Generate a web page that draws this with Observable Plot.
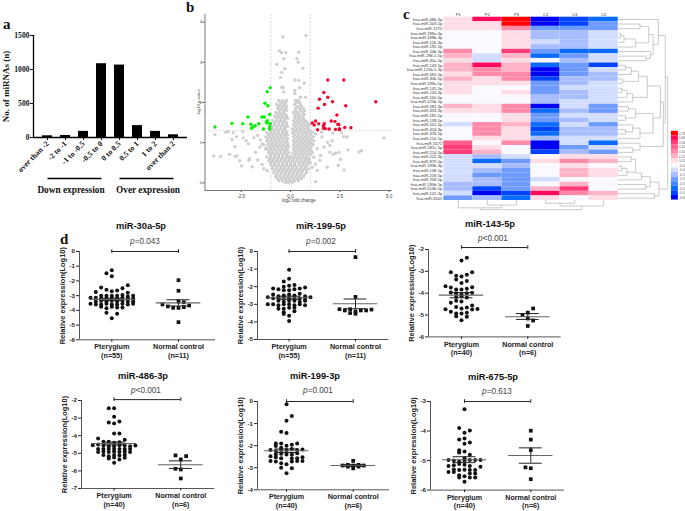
<!DOCTYPE html>
<html><head><meta charset="utf-8">
<script src="https://cdn.jsdelivr.net/npm/d3@7"></script>
<script src="https://cdn.jsdelivr.net/npm/@observablehq/plot@0.6"></script>
<style>
html,body{margin:0;padding:0;background:#fff;width:685px;height:511px;overflow:hidden}
#root{position:relative;width:685px;height:511px;overflow:hidden}
.abs{position:absolute;white-space:nowrap;line-height:1}
.ctr{transform:translateX(-50%)}
.panel{position:absolute}
.panel svg{display:block;overflow:visible;background:transparent}
.letter{font:bold 15px "Liberation Serif",serif;color:#111}
.ttl{font:bold 9.3px "Liberation Sans",sans-serif;color:#111}
.pv{font:8.2px "Liberation Sans",sans-serif;color:#444}
.grp{font:bold 9.3px "Liberation Serif",serif;color:#111}
</style></head>
<body><div id="root"></div>
<script>
// ---------- panel a ----------
const foldBins = ["over than -2","-2 to -1","-1 to -0.5","-0.5 to 0","0 to 0.5","0.5 to 1","1 to 2","over than 2"];
const mirnaCounts = [25,30,90,1085,1065,175,90,40];
const expressionGroups = [
  {name:"Down expression", from:"over than -2", to:"-0.5 to 0"},
  {name:"Over expression", from:"0 to 0.5", to:"over than 2"}
];

// ---------- panel b ----------
const volcanoGreenX = [-3.83,-2.97,-2.42,-2.16,-2.01,-1.91,-1.98,-1.79,-1.61,-1.45,-1.33,-1.3,-1.15,-1.18,-1.03,-1.05,-1.18,-1.22,-1.03,-1.18,-1.05,-1.05,-1.37];
const volcanoGreenY = [1.39,1.48,1.47,1.64,1.46,1.39,1.36,1.42,1.47,1.64,1.64,1.98,1.92,2.27,2.37,1.7,1.55,1.51,1.48,1.49,1.4,1.34,1.34];
const volcanoRedX = [1.89,2.7,1.69,1.89,1.47,2.13,1.72,2.8,1.4,4.32,2.35,2.06,2.25,1.27,1.1,1.2,1.43,1.71,1.67,2.4,2.45,2.75,3.06,1.37,1.67,1.77,1.96,2.28,2.48,2.48];
const volcanoRedY = [2.56,2.56,2.25,2.13,2.08,2.02,1.95,1.92,1.86,2.02,1.69,1.54,1.53,1.54,1.49,1.44,1.47,1.47,1.42,1.46,1.45,1.38,1.37,1.32,1.36,1.35,1.34,1.33,1.35,1.32];
const volcanoGreyOutliers = [[-0.39,3.63],[0.79,3.67],[-0.56,3.29],[-0.46,3.24],[-0.24,3.24],[0.42,3.25],[-0.34,3.09],[0.32,3.09],[0.39,3.0],[-0.69,2.95],[0.63,2.85],[-0.29,2.84],[-0.44,2.75],[-0.51,2.62],[0.22,2.56],[0.42,2.55],[0.69,2.48],[-0.44,2.38],[-0.37,2.37],[0.22,2.3],[0.22,2.22],[0.46,2.37],[-0.34,2.26],[0.51,2.13],[0.76,2.13],
[-3.83,1.2],[-3.28,1.26],[-3.16,1.28],[-2.91,1.25],[-2.42,1.28],[-2.74,1.15],[-2.97,1.08],[-2.82,0.9],[-3.89,0.67],[-3.55,0.66],[-3.09,0.71],[-2.82,0.66],[-2.72,0.67],[-2.57,0.55],[-2.48,0.42],[-2.08,0.6],[-2.11,0.56],[-1.94,0.4],[-2.4,1.12],[-2.13,0.97],[-2.25,1.05],[-1.86,1.12],[-1.66,1.18],[-1.52,1.07],[-1.77,0.76],[-1.66,0.57],[-1.44,0.46],[-1.35,0.35],[-1.18,0.31],[-1.55,0.89],[-1.44,0.97],[-1.27,0.85],
[1.27,0.03],[1.86,0.39],[2.42,0.44],[2.72,0.32],[2.53,0.58],[2.91,0.82],[2.6,1.24],[2.7,1.15],[2.87,1.14],[4.73,1.12],[3.6,0.8],[3.48,0.77],[2.45,0.76],[2.16,0.71],[2.28,0.74],[1.99,0.76],[1.88,1.01],[2.11,1.05],[1.99,0.93],[1.52,0.68],[1.27,0.47],[1.49,0.56],[1.18,1.05],[1.27,1.22],[1.6,1.14],[1.69,0.89],[1.35,0.85],[1.18,0.64],[1.1,0.39],[1.35,0.31],[1.57,1.26],[2.15,1.24]];
const volcanoGreyCloud = [
[2.05,[-0.6,-0.4,-0.2,0.25,0.4]],
[2.0,[-0.5,-0.35,-0.25,0.3,0.45]],
[1.95,[-0.7,-0.5,-0.3,0.2,0.5]],
[1.9,[-0.6,-0.4,-0.2,0.35,0.55]],
[1.85,[-0.65,-0.45,-0.25,0.25,0.45,0.65]],
[1.8,[-0.55,-0.35,-0.2,0.25,0.5,0.7]],
[1.75,[-0.75,-0.55,-0.35,0.15,0.35,0.6]],
[1.7,[-0.65,-0.45,-0.25,0.25,0.45,0.7]],
[1.65,[-0.8,-0.6,-0.4,-0.2,0.2,0.4,0.6]],
[1.6,[-0.7,-0.5,-0.3,-0.15,0.25,0.45,0.65]],
[1.55,[-0.9,-0.7,-0.5,-0.3,0.15,0.35,0.55,0.75]],
[1.5,[-0.8,-0.6,-0.4,-0.2,0.25,0.45,0.65,0.85]],
[1.45,[-1.0,-0.8,-0.6,-0.4,-0.2,0.15,0.35,0.55,0.75,0.95]],
[1.4,[-0.9,-0.7,-0.5,-0.3,-0.15,0.25,0.45,0.65,0.85]],
[1.35,[-1.1,-0.9,-0.7,-0.5,-0.3,0.1,0.3,0.5,0.7,0.9]],
[1.3,[-1.0,-0.8,-0.6,-0.4,-0.25,0.2,0.4,0.6,0.8,1.0]],
[1.25,[-1.2,-1.0,-0.8,-0.6,-0.4,-0.2,0.1,0.3,0.5,0.7,0.9,1.1]],
[1.2,[-1.1,-0.9,-0.7,-0.5,-0.3,-0.15,0.2,0.4,0.6,0.8,1.0]],
[1.15,[-1.25,-1.05,-0.85,-0.65,-0.45,-0.25,0.15,0.35,0.55,0.75,0.95,1.15]],
[1.1,[-1.15,-0.95,-0.75,-0.55,-0.35,-0.15,0.25,0.45,0.65,0.85,1.05]],
[1.05,[-1.2,-1.0,-0.8,-0.6,-0.4,-0.2,0.15,0.35,0.55,0.75,0.95]],
[1.0,[-1.1,-0.9,-0.7,-0.5,-0.3,-0.15,0.25,0.45,0.65,0.85,1.05]],
[0.95,[-1.35,-1.15,-0.95,-0.75,-0.55,-0.35,-0.15,0.15,0.35,0.55,0.75,0.95,1.15]],
[0.9,[-1.05,-0.85,-0.65,-0.45,-0.25,-0.1,0.25,0.45,0.65,0.85,1.05]],
[0.85,[-1.2,-1,-0.8,-0.6,-0.4,-0.2,0.15,0.35,0.55,0.75,0.95]],
[0.8,[-1.1,-0.9,-0.7,-0.5,-0.3,-0.15,0.25,0.45,0.65,0.85,1.05]],
[0.75,[-1.1,-0.9,-0.7,-0.5,-0.3,-0.1,0.1,0.3,0.5,0.7,0.9,1.1]],
[0.7,[-1.0,-0.8,-0.6,-0.4,-0.2,0.2,0.4,0.6,0.8,1.0]],
[0.65,[-1.2,-1,-0.8,-0.6,-0.4,-0.2,-0.05,0.05,0.25,0.45,0.65,0.85]],
[0.6,[-1.05,-0.85,-0.65,-0.45,-0.25,-0.05,0.15,0.35,0.55,0.75,0.95]],
[0.55,[-1.1,-0.9,-0.7,-0.5,-0.3,-0.1,0.1,0.3,0.5,0.7,0.9]],
[0.5,[-1.0,-0.8,-0.6,-0.4,-0.2,0,0.2,0.4,0.6,0.8,1.0]],
[0.45,[-1,-0.8,-0.6,-0.4,-0.2,0,0.2,0.45,0.65,0.85]],
[0.4,[-0.9,-0.7,-0.5,-0.3,-0.1,0.1,0.3,0.55,0.75]],
[0.35,[-0.9,-0.7,-0.5,-0.3,-0.1,0.1,0.3,0.5,0.7,0.9]],
[0.3,[-0.8,-0.6,-0.4,-0.2,0,0.2,0.4,0.6,0.8]],
[0.25,[-0.85,-0.65,-0.45,-0.25,-0.05,0.15,0.35,0.55,0.8]],
[0.2,[-0.7,-0.5,-0.3,-0.1,0.1,0.3,0.5,0.7]],
[0.15,[-0.75,-0.55,-0.35,-0.15,0.05,0.25,0.45,0.65]],
[0.1,[-0.65,-0.45,-0.25,-0.05,0.15,0.35,0.55]],
[0.05,[-0.6,-0.4,-0.2,0,0.2,0.4]],
[0.01,[-0.25,-0.1,0.1]]];

// ---------- panel c ----------
const heatSamples = ["P1","P2","P3","C1","C3","C2"];
const heatMirnas = ["hsa-miR-486-3p","hsa-miR-503-5p","hsa-miR-1270","hsa-miR-199a-3p","hsa-miR-199b-3p","hsa-miR-126-3p","hsa-miR-195-5p","hsa-miR-10b-3p","hsa-miR-29b-1-5p","hsa-miR-30a-5p","hsa-miR-143-5p","hsa-miR-125b-1-3p","hsa-miR-582-5p","hsa-miR-30b-5p","hsa-miR-199a-5p","hsa-miR-145-5p","hsa-miR-143-3p","hsa-miR-100-5p","hsa-miR-125b-5p","hsa-miR-582-3p","hsa-miR-433-3p","hsa-miR-185-5p","hsa-miR-139-5p","hsa-miR-501-5p","hsa-miR-424-3p","hsa-miR-376-5p","hsa-miR-150-5p","hsa-miR-3172","hsa-miR-181c-5p","hsa-miR-214-5p","hsa-miR-222-3p","hsa-miR-873-5p","hsa-miR-193b-3p","hsa-miR-148-5p","hsa-miR-218-5p","hsa-miR-708-5p","hsa-miR-190b-5p","hsa-miR-514b-5p","hsa-miR-141-3p","hsa-miR-6501"];
const heatLevels = [
[1,4,6,-6,-5,-4],[1,1,6,-6,-5,-3],[1,1,2,-3,-3,-3],[0,0,1,-2,-2,-1],[0,0,1,-2,-2,-1],[0,0,1,-1,-2,-1],[0,0,1,-2,-2,-1],
[2,0,3,-3,-4,-4],[1.5,-1,1.5,-4,-3,-1],[1,-1,1,0,-2,-1],[1.5,4,1.5,-4,-3,-5],[1.5,2,1.5,-6,-3,-1],[1,2,2,-6,-3,-2],[1.5,1,2,-5,-2,-2],
[1,1,1,-3,-2,-1],[1,0,0,-3,-1,-1],[1,0,1,-3,-2,-1],[0,0,0,-2,-2,-1],[0,0,0,-2,-1,-1],[1.5,1,2,-6,-1,-3],[1,1,2,-4,-2,-3],[0,0,1,-3,-1,-1],[0,0,1,-3,-2,-1],
[-1,2,1.5,-4,-1,-3],[0,2,1,-5,-2,-2],[0,2,1,-4,-2,-2],[0,1,1,-2,-1,-1],[2.5,0,2,-6,-1,-4],[3,1,0,-6,-3,-1],[3,1.5,0,-5,-2,-3],
[-1,-2,-1,0,1,1],[-1,-4,-3,1,2,1.5],[-1,-1,-2,0,1,0],[-1,-2,-3,0,1.5,1],[-1,-3,-3,0,1.5,1],[-1,-2,-3,-1,0,0],[-2,-2,-3,0,1.5,0],[-2,-5,-3,1.5,3,0],[-1,-6,-5,4,2,1.5],[-3,-2,-4,1,0,1]];
const heatPalette = new Map([[6,"#ff0000"],[4,"#ff0a5a"],[3,"#ff3d78"],[2.5,"#ff5f8c"],[2,"#ff8aa8"],[1.5,"#ffb3c6"],[1,"#ffdde6"],[0,"#f9f9ff"],[-1,"#d2ddff"],[-2,"#a8bdff"],[-3,"#6e9bff"],[-4,"#0a6cff"],[-5,"#0044ff"],[-6,"#0000f5"]]);
const legendTicks = ["0.76","0.66","0.56","0.41","0.31","0.21","0.11","-0.02","-0.09","-0.19","-0.29","-0.37","-0.47","-0.57","-0.66"];
const legendLevels = [6,4,3,2.5,2,1.5,1,0,-1,-2,-3,-3.5,-4,-5,-6];
// dendrograms: [rowA, depthA, rowB, depthB, depthOfJoin]
const rowTree = [
[1.5,6,2.5,6,6.75],[3.5,6,4.5,6,6.08],[4,6.08,5.5,6,6.2],[4.75,6.2,6.5,6,6.6],[2,6.75,5.6,6.6,7.05],
[8.5,6,9.5,6,6.96],[7.5,6,9,6.96,7.11],[3.8,7.05,8.2,7.11,7.2],[0.5,6,6,7.2,7.38],
[10.5,6,11.5,6,6.25],[11,6.25,12.5,6,6.45],[13.5,6,14.5,6,6.15],[15.5,6,16.5,6,6.12],[15.9,6.12,17.5,6,6.3],[16.7,6.3,18.5,6,6.5],[11.8,6.45,14,6.15,6.7],[12.9,6.7,17.5,6.5,7.0],
[19.5,6,20.5,6,6.35],[21.5,6,22.5,6,6.25],[20,6.35,22,6.25,6.6],[24.5,6,25.5,6,6.25],[23.5,6,25,6.25,6.5],[26.5,6,24.2,6.5,6.75],[21,6.6,25.3,6.75,7.2],
[28.5,6,29.5,6,6.5],[27.5,6,29,6.5,6.75],[15,7,22,7.2,7.45],[18.5,7.45,28.2,6.75,7.55],
[30.5,6,31.5,6,6.45],[32.5,6,33.5,6,6.12],[34.5,6,33,6.12,6.3],[31,6.45,33.8,6.3,6.6],[35.5,6,34,6.6,6.8],[36.5,6,37.5,6,6.95],[34.8,6.8,37,6.95,7.1],[38.5,6,39.5,6,7.25],[36,7.1,39,7.25,7.4],
[4,7.38,23,7.55,7.62],[13,7.62,37.5,7.4,7.7]];
// [colA, heightA, colB, heightB, heightOfJoin]
const colTree = [[1.5,40,2.5,40,41],[0.5,40,2,41,41.6],[3.5,40,4.5,40,40.6],[4,40.6,5.5,40,41.2],[1.25,41.6,4.75,41.2,42]];

// ---------- panel d ----------
const a30Pt = [[0,-1.27],[-1,-1.47],[0,-1.68],[3,-2.3],[-2,-2.45],[2,-2.5],[-1,-2.6],[1,-2.65],[0,-2.7],[-3,-2.75],[3,-2.8],
[-2,-3.0],[-1,-3.0],[0,-3.0],[1,-3.0],[2,-2.95],[3,-3.05],[4,-3.0],[-4,-3.15],[-3,-3.15],[-2,-3.2],[-1,-3.2],[0,-3.15],[1,-3.2],[2,-3.15],[3,-3.2],[4,-3.2],
[-3,-3.4],[-2,-3.35],[-1,-3.4],[0,-3.35],[1,-3.4],[2,-3.35],[3,-3.4],[4,-3.4],[-3,-3.6],[-2,-3.6],[-1,-3.55],[0,-3.6],[1,-3.6],[2,-3.55],[3,-3.6],[-4,-3.55],[4,-3.55],
[-1,-3.85],[0,-3.75],[1,-3.8],[2,-3.8],[-2,-3.75],[-1,-4.17],[1,-4.23],[0,-4.53]];
const a30Nc = [[0,-1.95],[0,-2.67],[0,-3.4],[1,-3.45],[-3,-3.6],[-2,-3.73],[-1,-3.83],[0,-3.83],[1,-3.78],[2,-3.67],[0,-4.8]];
const b199Pt = [[0,-1.04],[0,-1.55],[-1,-1.7],[0,-1.95],[1,-1.9],[-1,-2.0],[-3,-2.1],[-2,-2.15],[-1,-2.2],[0,-2.2],[1,-2.15],[2,-2.1],[3,-2.05],
[-3,-2.45],[-2,-2.55],[-1,-2.5],[0,-2.45],[1,-2.5],[2,-2.4],[3,-2.55],[-4,-2.6],[-3,-2.65],[-2,-2.65],[-1,-2.6],[0,-2.65],[1,-2.7],[2,-2.65],[3,-2.7],[4,-2.6],
[-2,-2.8],[-1,-2.85],[0,-2.8],[1,-2.8],[2,-2.85],[3,-2.8],[-3,-3.0],[-4,-3.0],[-2,-3.05],[-1,-3.0],[0,-3.0],[1,-3.05],[2,-3.0],[3,-3.05],
[-1,-3.25],[0,-3.2],[1,-3.2],[-2,-3.25],[-1,-3.55],[0,-3.65],[1,-3.4],[-1,-3.45],[0,-3.95]];
const b199Nc = [[0,-0.32],[0,-2.58],[-3,-3.28],[-2,-3.35],[-1,-3.28],[0,-3.4],[1,-3.35],[2,-3.35],[3,-3.3],[0,-3.54],[-1,-3.5]];
const c143Pt = [[1,-2.38],[0,-2.5],[-2,-3.04],[2,-3.04],[1,-3.16],[0,-3.24],[-1,-3.2],[-1,-3.37],[0,-3.53],[1,-3.44],[-3,-3.68],[-2,-3.74],[-1,-3.83],[0,-3.83],[1,-3.8],[2,-3.73],[-2,-3.97],[-1,-4.0],[0,-4.05],[1,-4.0],[2,-3.98],[-1,-4.17],[0,-4.14],[1,-4.2],[-2,-4.44],[-1,-4.35],[0,-4.38],[-1,-4.63],[0,-4.7],[1,-4.66],[2,-4.56],[-3,-4.73],[2,-4.75],[3,-4.72],[-2,-4.85],[-1,-4.93],[0,-4.93],[1,-4.9],[-1,-5.05],[1,-5.08],[0,-5.24]];
const c143Nc = [[1,-4.7],[0,-4.89],[-1,-5.0],[0,-5.16],[1,-5.25],[0,-5.5]];
const d486Pt = [[-1,-2.44],[0,-2.44],[0,-2.93],[-1,-3.25],[0,-3.3],[1,-3.2],[0,-3.88],[1,-3.88],[-3,-4.16],[2,-4.23],[-2,-4.35],[-1,-4.35],[0,-4.4],[1,-4.37],
[-4,-4.54],[-3,-4.5],[-2,-4.54],[-1,-4.6],[0,-4.6],[1,-4.54],[2,-4.56],[3,-4.6],[4,-4.56],[-3,-4.75],[-2,-4.75],[-1,-4.75],[0,-4.75],[1,-4.75],[2,-4.75],[3,-4.75],
[-3,-4.92],[-2,-4.9],[-1,-4.92],[0,-4.9],[1,-4.92],[2,-4.9],[3,-4.92],[-2,-5.1],[-1,-5.17],[0,-5.1],[1,-5.12],[2,-5.08],[-1,-5.3],[0,-5.24],[1,-5.35],[0,-5.54],[2,-5.26]];
const d486Nc = [[-1,-5.12],[1,-5.16],[0,-5.35],[-1,-5.88],[0,-5.92],[0,-6.43]];
const e199Pt = [[0,-0.12],[1,-0.66],[0,-0.87],[-1,-1.37],[0,-1.43],[-2,-1.9],[-1,-1.9],[2,-1.9],[1,-1.96],[0,-2.0],[-2,-2.02],[-1,-2.1],[-3,-2.2],[-2,-2.24],[-1,-2.2],[0,-2.2],[1,-2.15],[2,-2.2],[3,-2.18],
[-2,-2.4],[-1,-2.37],[0,-2.4],[1,-2.4],[2,-2.35],[-3,-2.48],[-2,-2.52],[-1,-2.57],[1,-2.57],[2,-2.57],[3,-2.52],[-3,-2.69],[-2,-2.72],[-1,-2.8],[0,-2.84],[1,-2.72],[2,-2.69],[3,-2.69],[-1,-3.0],[1,-3.02],[0,-3.25]];
const e199Nc = [[0,-2.69],[-1,-2.87],[1,-2.87],[0,-2.9],[-2,-2.9],[2,-2.9],[-1,-2.95],[1,-2.95],[0,-3.03]];
const f675Pt = [[0,-3.26],[-1,-3.9],[0,-4.06],[1,-3.98],[-1,-4.29],[0,-4.25],[0,-4.43],[1,-4.39],[-1,-4.65],[-1,-4.73],[0,-4.69],[1,-4.8],[-3,-4.98],[-2,-5.0],[-1,-5.03],[0,-4.92],[0,-5.0],[1,-4.98],[2,-4.98],[3,-4.98],
[-3,-5.18],[-2,-5.16],[-1,-5.12],[0,-5.14],[1,-5.18],[3,-5.21],[-2,-5.3],[-3,-5.39],[-2,-5.39],[-1,-5.32],[0,-5.31],[1,-5.32],[2,-5.32],[2,-5.44],[1,-5.44],[-1,-5.5],[0,-5.53],[-1,-5.57],[1,-5.57],[2,-5.57],[0,-5.72]];
const f675Nc = [[0,-3.99],[0,-4.29],[0,-4.65],[-1,-5.23],[0,-5.26],[0,-5.63]];

const dotPanels = [
 {title:"miR-30a-5p", pText:"=0.043", titleX:141,titleY:221,pX:145,pY:237, n:[55,11], pt:a30Pt, nc:a30Nc, ptStat:[-3.25,-3.33,-3.17], ncStat:[-3.49,-3.7,-3.28], bracket:0, axisX:79,axisR:215,g1:111.3,g2:178,yT:251,yB:339.3,dom:[-6,0],ticks:[0,-1,-2,-3,-4,-5,-6]},
 {title:"miR-199-5p", pText:"=0.002", titleX:321,titleY:221,pX:321,pY:237, n:[55,11], pt:b199Pt, nc:b199Nc, ptStat:[-2.63,-2.72,-2.54], ncStat:[-2.97,-3.25,-2.7], bracket:0, axisX:256.7,axisR:388,g1:288.3,g2:354.7,yT:251,yB:339,dom:[-5,0],ticks:[0,-1,-2,-3,-4,-5]},
 {title:"miR-143-5p", pText:"<0.001", titleX:490,titleY:219,pX:493,pY:234, n:[40,6], pt:c143Pt, nc:c143Nc, ptStat:[-4.09,-4.21,-3.97], ncStat:[-5.08,-5.2,-4.93], bracket:-1.91, axisX:428,axisR:560.7,g1:461,g2:527.3,yT:249.3,yB:336.7,dom:[-6,-2],ticks:[-2,-3,-4,-5,-6]},
 {title:"miR-486-3p", pText:"<0.001", titleX:143,titleY:371,pX:146,pY:386, n:[40,6], pt:d486Pt, nc:d486Nc, ptStat:[-4.44,-4.52,-4.36], ncStat:[-5.65,-5.86,-5.43], bracket:-1.95, axisX:80.7,axisR:214,g1:113.3,g2:180,yT:400.3,yB:488.3,dom:[-7,-2],ticks:[-2,-3,-4,-5,-6,-7]},
 {title:"miR-199-3p", pText:"=0.001", titleX:315,titleY:371,pX:318,pY:386, n:[40,6], pt:e199Pt, nc:e199Nc, ptStat:[-2.23,-2.31,-2.15], ncStat:[-2.9,-2.94,-2.86], bracket:0, axisX:257,axisR:389,g1:286,g2:352.7,yT:400.7,yB:489,dom:[-4,0],ticks:[0,-1,-2,-3,-4]},
 {title:"miR-675-5p", pText:"=0.613", titleX:493,titleY:372,pX:497,pY:387, n:[40,6], pt:f675Pt, nc:f675Nc, ptStat:[-4.97,-5.07,-4.87], ncStat:[-4.83,-5.09,-4.57], bracket:-3, axisX:430,axisR:564,g1:464,g2:530.3,yT:400.7,yB:489.3,dom:[-6,-3],ticks:[-3,-4,-5,-6]}
];
const groupNames = ["Pterygium","Normal control"];

// ---------- helpers ----------
const root = document.getElementById("root");
function place(node,left,top){const w=document.createElement("div");w.className="panel";w.style.left=left+"px";w.style.top=top+"px";w.appendChild(node);root.appendChild(w);}
function note(html,cls,x,y,center){const e=document.createElement("div");e.className="abs "+cls+(center?" ctr":"");e.style.left=x+"px";e.style.top=y+"px";e.innerHTML=html;root.appendChild(e);}

// ---------- draw a ----------
{
 const serif={fontFamily:"Liberation Serif",fontWeight:"bold",fontSize:"8px",color:"#111",background:"transparent"};
 const lines=expressionGroups.flatMap(g=>[{g:g.name,x:g.from,y:-603},{g:g.name,x:g.to,y:-603}]);
 place(Plot.plot({width:200,height:190,marginLeft:33,marginRight:13,marginTop:35,marginBottom:53,style:serif,
  x:{type:"band",domain:foldBins,padding:0.42,label:null},
  y:{domain:[0,1500],label:null},
  marks:[
   Plot.barY(foldBins,{x:d=>d,y:(d,i)=>mirnaCounts[i],fill:"#000"}),
   Plot.axisY({ticks:[0,500,1000,1500],tickSize:3,tickPadding:1,tickFormat:d=>String(d),label:null,fontSize:7.6}),
   Plot.axisY({ticks:[],tickSize:0,label:"No. of miRNAs (n)",labelAnchor:"center",labelArrow:"none",labelOffset:30.5,fontSize:9}),
   Plot.axisX({tickRotate:-45,tickSize:3,tickPadding:2,label:null,fontSize:7.8}),
   Plot.ruleY([0],{stroke:"#000",strokeWidth:1.3}),
   Plot.line(lines,{x:"x",y:"y",z:"g",stroke:"#000",strokeWidth:1.3,strokeLinecap:"butt"})
  ]}),0,0);
 place(Plot.plot({width:200,height:190,marginLeft:33,marginRight:13,marginTop:35,marginBottom:53,style:{background:"transparent"},
  x:{domain:[0,1],axis:null},y:{domain:[0,1500],axis:null},marks:[Plot.ruleX([0],{stroke:"#000",strokeWidth:1.3})]}),0,0);
 note(expressionGroups[0].name,"grp",71,185,true);
 note(expressionGroups[1].name,"grp",148,185,true);
}

// ---------- draw b ----------
{
 const grey=[...volcanoGreyOutliers,...volcanoGreyCloud.flatMap(([y,xs])=>xs.map(x=>[x,y]))];
 const green=volcanoGreenX.map((x,i)=>[x,volcanoGreenY[i]]);
 const red=volcanoRedX.map((x,i)=>[x,volcanoRedY[i]]);
 place(Plot.plot({width:215,height:225,marginLeft:14.5,marginRight:13,marginTop:14,marginBottom:35,
  style:{fontFamily:"Liberation Sans",fontSize:"4.4px",color:"#444",background:"transparent"},
  x:{domain:[-4.336,5.17],label:null},
  y:{domain:[-0.19,4.19],label:null},
  marks:[
   Plot.dot(grey,{x:d=>d[0],y:d=>d[1],r:1.7,fill:"#cfcfcf"}),
   Plot.ruleX([-1,1],{stroke:"#c9c9c9",strokeWidth:0.8,strokeDasharray:"2,1.5"}),
   Plot.ruleY([1.3],{stroke:"#d5d5d5",strokeWidth:0.8,strokeDasharray:"2,1.5"}),
   Plot.dot(green,{x:d=>d[0],y:d=>d[1],r:1.7,fill:"#00f000"}),
   Plot.dot(red,{x:d=>d[0],y:d=>d[1],r:1.7,fill:"#f5002d"}),
   Plot.axisX({ticks:[-2.5,0,2.5,5],tickFormat:d=>d.toFixed(1),tickSize:2,tickPadding:2,label:"log2 fold change",labelAnchor:"center",labelArrow:"none",labelOffset:11,fontSize:4.6}),
   Plot.axisY({ticks:[0,1,2,3,4],tickFormat:d=>String(d),tickSize:2,tickPadding:1,label:"-log10 p-value",labelAnchor:"center",labelArrow:"none",labelOffset:8,fontSize:4.2}),
   Plot.ruleX([-4.336],{stroke:"#777",strokeWidth:1}),
   Plot.ruleY([-0.19],{stroke:"#777",strokeWidth:1})
  ]}),190,0);
}

// ---------- draw c ----------
{
 const cells=heatMirnas.flatMap((m,r)=>heatSamples.map((s,c)=>({c,r,fill:heatPalette.get(heatLevels[r][c])})));
 const rowPaths=rowTree.flatMap(([a,da,b,db,d],i)=>[{i,x:da,y:a},{i,x:d,y:a},{i,x:d,y:b},{i,x:db,y:b}]);
 const colPaths=colTree.flatMap(([a,ha,b,hb,h],i)=>[{i,x:a,y:ha},{i,x:a,y:h},{i,x:b,y:h},{i,x:b,y:hb}]);
 const legendPalette=l=>heatPalette.get(l)||"#3f86ff";
 place(Plot.plot({width:285,height:230,marginLeft:43.3,marginRight:0,marginTop:16.7,marginBottom:30,
  style:{fontFamily:"Liberation Sans",fontSize:"4.2px",color:"#333",background:"transparent"},
  x:{domain:[0,8.314],axis:null},
  y:{domain:[0,40],reverse:true,axis:null},
  color:{type:"identity"},
  marks:[
   Plot.rect(cells,{x1:d=>d.c,x2:d=>d.c+1,y1:d=>d.r,y2:d=>d.r+1,fill:"fill"}),
   Plot.text(heatMirnas,{x:()=>0,y:(d,i)=>i+0.5,text:d=>d,textAnchor:"end",dx:-1.5,fill:"#333",fontSize:4.1}),
   Plot.text(heatSamples,{x:(d,i)=>i+0.5,y:()=>0,text:d=>d,dy:-3,fill:"#333",fontSize:4.2}),
   Plot.line(rowPaths,{x:"x",y:"y",z:"i",stroke:"#bdbdbd",strokeWidth:0.8}),
   Plot.line(colPaths,{x:"x",y:"y",z:"i",stroke:"#bdbdbd",strokeWidth:0.8}),
   Plot.rect(legendLevels,{x1:()=>7.83,x2:()=>8.07,y1:(d,i)=>24.9+i*1.0,y2:(d,i)=>25.9+i*1.0,fill:d=>legendPalette(d)}),
   Plot.text(legendTicks,{x:()=>8.09,y:(d,i)=>25.4+i*1.0,text:d=>d,textAnchor:"start",fill:"#555",fontSize:3.2})
  ]}),400,0);
}

// ---------- draw d ----------
for(const p of dotPanels){
 const span=p.g2-p.g1, col=5.33/span;
 const x0=1+(p.axisX-p.g1)/span, x1=1+(p.axisR-p.g1)/span;
 const capTop=(p.dom[1]-p.dom[0])/(p.yB-p.yT)*1.8;
 const longHalf=0.335, capHalf=0.172;
 const stats=[{x:1,s:p.ptStat},{x:2,s:p.ncStat}];
 place(Plot.plot({width:p.axisR-p.axisX+30+6,height:p.yB-p.yT+15+22,marginLeft:30,marginRight:6,marginTop:15,marginBottom:22,
  style:{fontFamily:"Liberation Sans",fontWeight:"bold",fontSize:"6.8px",color:"#222",background:"transparent"},
  x:{domain:[x0,x1],label:null},
  y:{domain:p.dom,label:null},
  marks:[
   Plot.dot(p.pt,{x:d=>1+d[0]*col,y:d=>d[1],r:2,fill:"#111"}),
   Plot.dot(p.nc,{x:d=>2+d[0]*col,y:d=>d[1],r:2.1,symbol:"square",fill:"#111"}),
   Plot.ruleY(stats,{y:d=>d.s[0],x1:d=>d.x-longHalf,x2:d=>d.x+longHalf,stroke:"#666",strokeWidth:1.1}),
   Plot.ruleX(stats,{x:"x",y1:d=>d.s[1],y2:d=>d.s[2],stroke:"#222",strokeWidth:1}),
   Plot.ruleY(stats,{y:d=>d.s[1],x1:d=>d.x-capHalf,x2:d=>d.x+capHalf,stroke:"#222",strokeWidth:1}),
   Plot.ruleY(stats,{y:d=>d.s[2],x1:d=>d.x-capHalf,x2:d=>d.x+capHalf,stroke:"#222",strokeWidth:1}),
   Plot.ruleY([p.bracket],{x1:1,x2:2,stroke:"#222",strokeWidth:1}),
   Plot.ruleX([1,2],{y1:p.bracket-capTop,y2:p.bracket+capTop,stroke:"#222",strokeWidth:1}),
   Plot.ruleX([x0],{y1:p.dom[0],y2:p.dom[1],stroke:"#555",strokeWidth:1}),
   Plot.ruleY([p.dom[0]],{x1:x0,x2:x1,stroke:"#555",strokeWidth:1}),
   Plot.axisY({ticks:p.ticks,tickFormat:d=>String(d),tickSize:3,tickPadding:1.5,label:null,fontSize:6.2}),
   Plot.axisY({ticks:[],tickSize:0,label:"Relative expression(Log10)",labelAnchor:"center",labelArrow:"none",labelOffset:20,fontSize:7.5}),
   Plot.axisX({ticks:[1,2],tickFormat:d=>groupNames[d-1]+"\n(n="+p.n[d-1]+")",tickSize:2.5,tickPadding:1,label:null,lineHeight:1.2,fontSize:7.2})
  ]}),p.axisX-30,p.yT-15);
 note(p.title,"ttl",p.titleX,p.titleY,true);
 note("<i>p</i>"+p.pText.replace("<","&lt;"),"pv",p.pX,p.pY,true);
}

// ---------- panel letters ----------
note("a","letter",3,16,false);
note("b","letter",186,-1,false);
note("c","letter",403,6,false);
note("d","letter",60,231,false);
</script>
</body></html>
